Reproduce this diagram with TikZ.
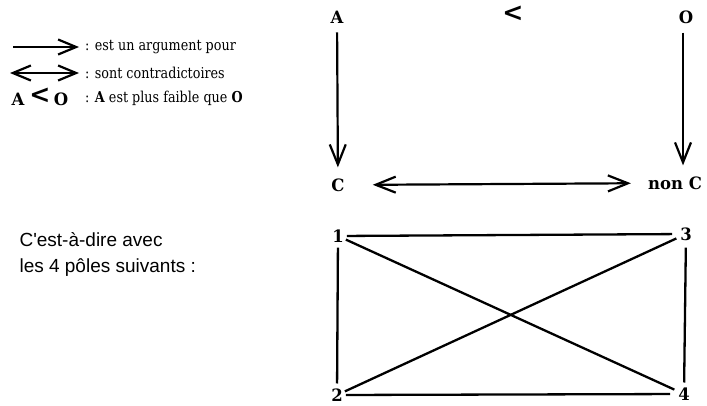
\documentclass[tikz,border=0pt]{standalone}
\usepackage{fontspec}
\setmainfont{DejaVu Serif}[FakeStretch=0.85]
\newfontfamily\polefont{DejaVu Serif}[FakeStretch=0.97]
\newfontfamily\armsans{Liberation Sans}
\usetikzlibrary{arrows.meta,positioning}

\tikzset{
  pole/.style={font=\polefont\fontsize{17}{19}\selectfont\bfseries,inner sep=1pt},
  legtext/.style={font=\fontsize{15}{17}\selectfont,anchor=west,inner sep=1pt},
  less/.style={font=\polefont\fontsize{26}{26}\selectfont\bfseries,inner sep=0pt},
  barb/.tip={Straight Barb[length=18pt,width=15pt,line width=2.2pt]},
  bigbarb/.tip={Straight Barb[length=20pt,width=16pt,line width=2.2pt]},
  argue/.style={line width=2.2pt,-bigbarb},
  contra/.style={line width=2.2pt,bigbarb-bigbarb},
  edge/.style={line width=2.3pt}
}

\begin{document}
\begin{tikzpicture}[x=1pt,y=-1pt]
\useasboundingbox (0,0) rectangle (707,405);
% legend
\coordinate (l1) at (13,47);
\coordinate (l2) at (10,73);
\node[legtext] (t1) at (84,47) {: est un argument pour};
\node[legtext] (t2) at (84,73) {: sont contradictoires};
\draw[line width=2.2pt,-barb,shorten >=5pt] (l1) -- (t1);
\draw[line width=2.2pt,barb-barb,shorten >=5pt] (l2) -- (t2);
\node[pole] (la) at (18,99) {A};
\node[less] (llt) at (40,96) {<};
\node[pole] (lo) at (61,99) {O};
\node[legtext] (t3) at (84,98) {: \textbf{A} est plus faible que \textbf{O}};
% square of opposition
\node[pole] (a) at (337,17) {A};
\node[less] (lt) at (513,14) {<};
\node[pole] (o) at (686,17) {O};
\node[pole] (c) at (338,185) {C};
\node[pole] (nc) at (675,183) {non C};
\draw[argue,shorten <=8pt,shorten >=10pt] (a) -- (c);
\draw[argue,shorten <=8pt,shorten >=10pt] (o.south -| 683,0) -- (nc.north -| 683,0);
\draw[contra,shorten <=27pt,shorten >=16pt] (c) -- (nc);
% text
\node[font=\armsans\fontsize{19}{26}\selectfont,align=left,anchor=north west] (txt) at (16,229)
  {C'est-à-dire avec\\les 4 pôles suivants :};
% the four poles
\node[pole] (p1) at (338,236) {1};
\node[pole] (p3) at (686,234) {3};
\node[pole] (p2) at (337,395) {2};
\node[pole] (p4) at (684,394) {4};
\draw[edge,shorten <=2pt,shorten >=7pt] (p1) -- (p3);
\draw[edge,shorten <=4pt,shorten >=4pt] (p1) -- (p2);
\draw[edge,shorten <=6pt,shorten >=4pt] (p3) -- (p4);
\draw[edge,shorten <=2pt,shorten >=7pt] (p2) -- (p4);
\draw[edge,shorten <=1pt,shorten >=3pt] (p1) -- (p4);
\draw[edge,shorten <=1pt,shorten >=3pt] (p2) -- (p3);
\end{tikzpicture}
\end{document}
